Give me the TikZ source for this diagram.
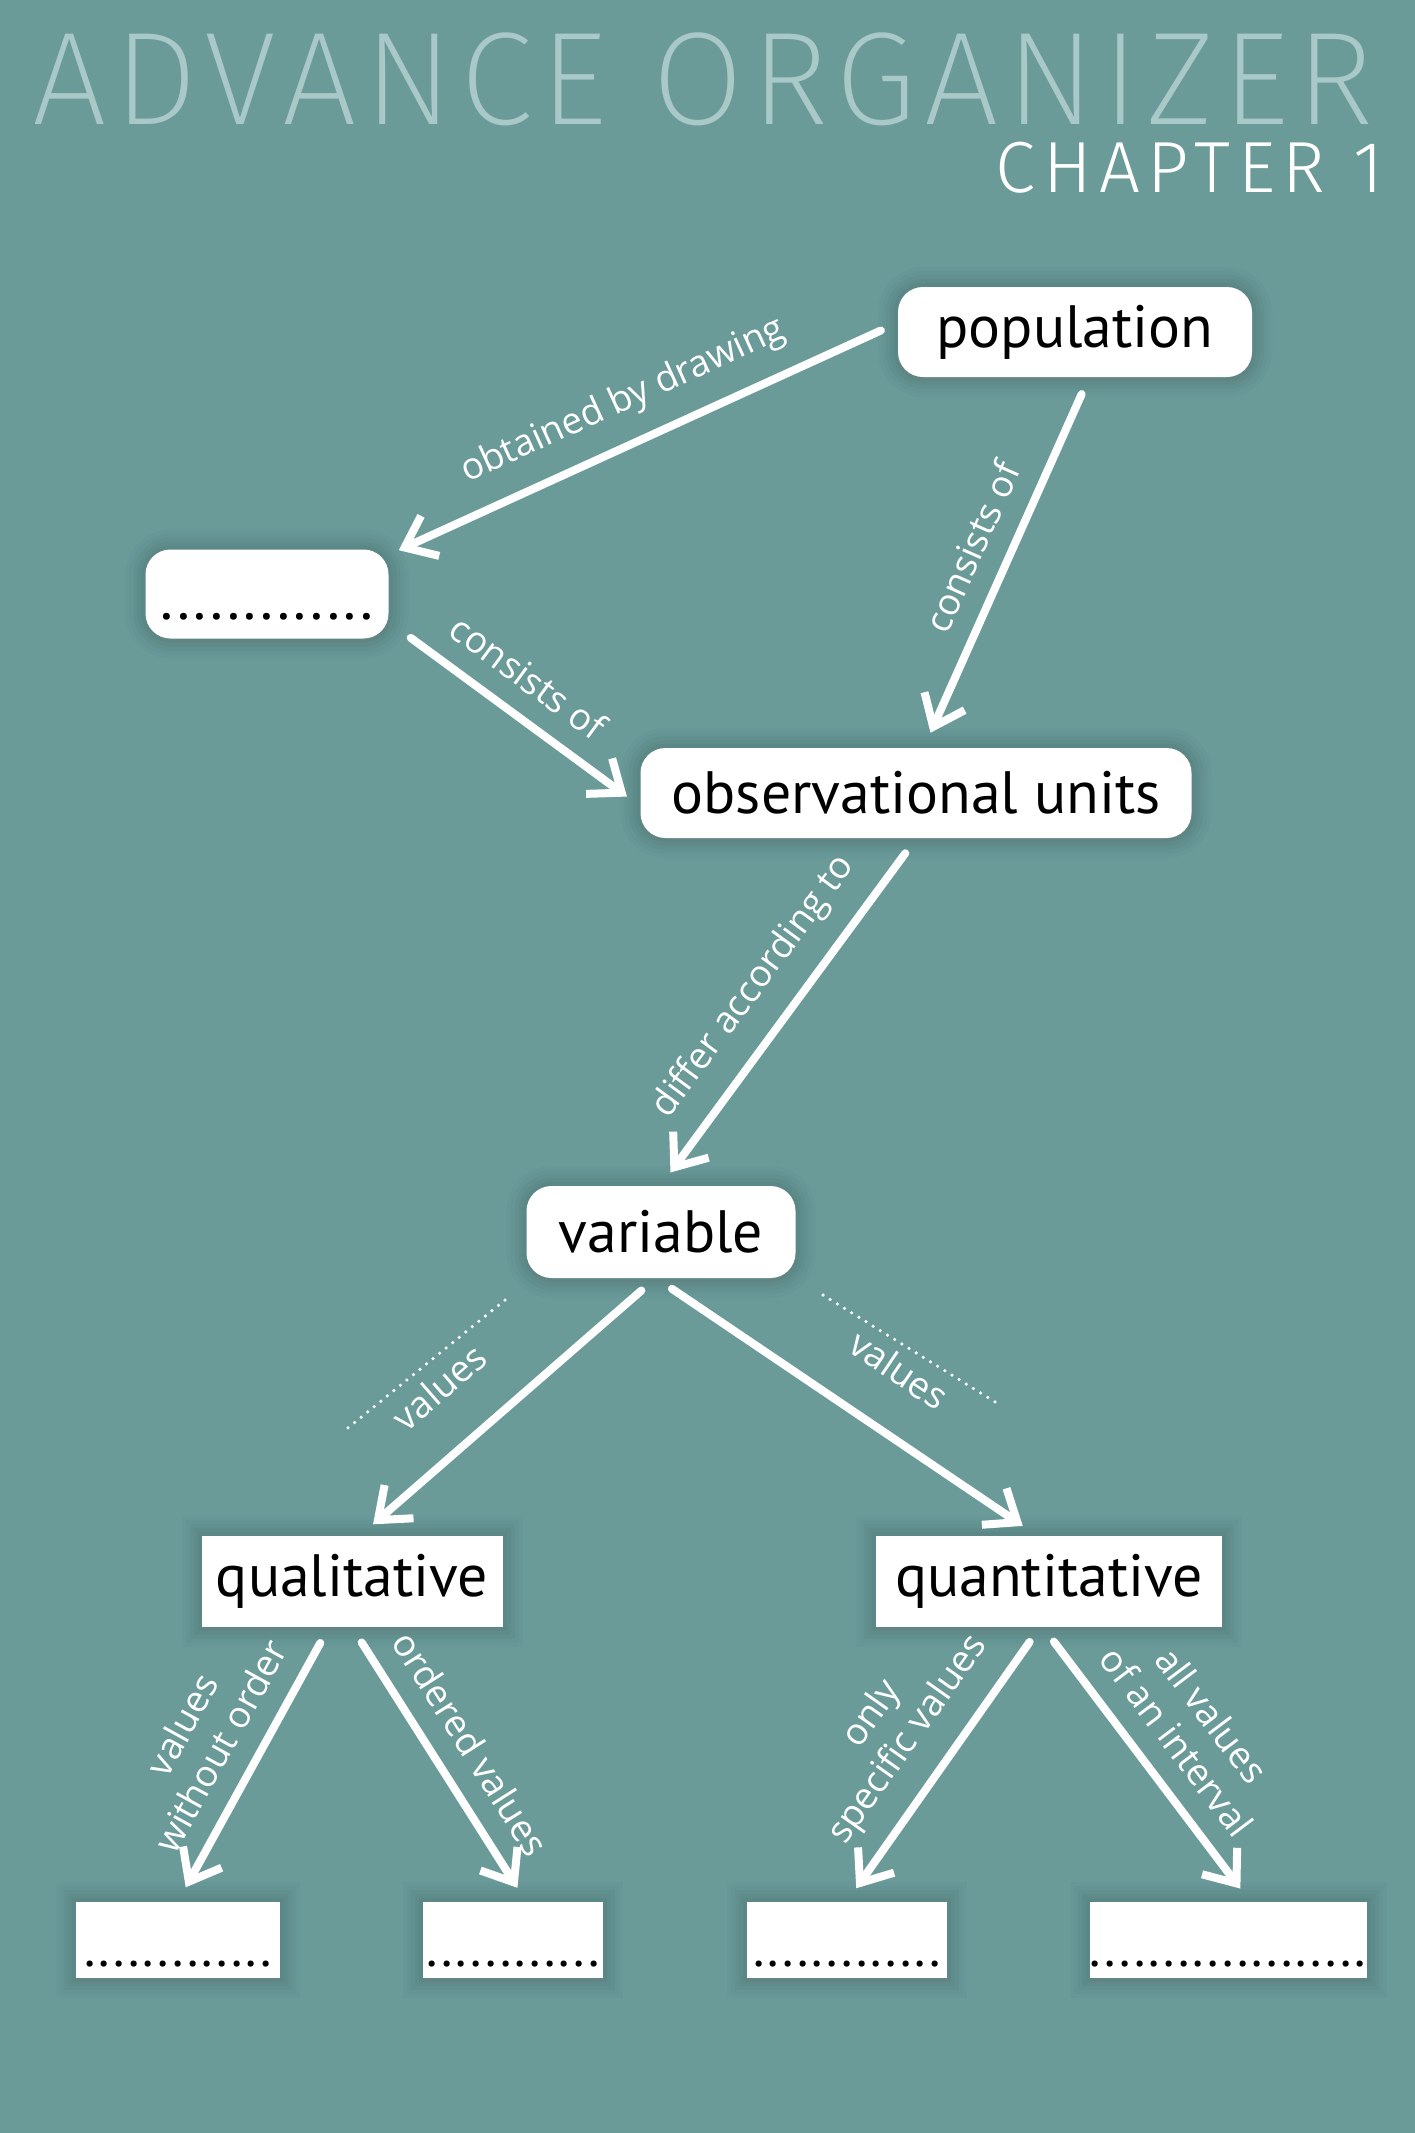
\documentclass[tikz,border=0pt]{standalone}
\usepackage{fontspec}
\setmainfont{Open Sans}
\newfontfamily\boxfont{PT Sans}
\newfontfamily\titlefont[LetterSpace=5.8]{Fira Sans ExtraLight}
\newfontfamily\chapterfont[LetterSpace=10.5]{Fira Sans Light}
\usetikzlibrary{arrows.meta,shadows}
\definecolor{tealbg}{HTML}{6A9B99}
\definecolor{titlegrey}{HTML}{A9C8C8}
\tikzset{
  halo/.style={preaction={draw=black, draw opacity=0.02, line width=0.40cm},
    preaction={draw=black, draw opacity=0.02, line width=0.32cm},
    preaction={draw=black, draw opacity=0.025, line width=0.24cm},
    preaction={draw=black, draw opacity=0.025, line width=0.16cm},
    preaction={draw=black, draw opacity=0.03, line width=0.08cm}},
  concept/.style={fill=white, rounded corners=0.25cm, inner sep=0pt, text=black,
    font=\boxfont\fontsize{17}{20}\selectfont, halo,
    drop shadow={shadow xshift=0cm, shadow yshift=-0.06cm, opacity=0.15}},
  category/.style={concept, sharp corners},
  blank/.style={category, text height=0.64cm, text depth=0.12cm, minimum height=0cm,
    font=\boxfont\fontsize{15}{18}\selectfont},
  link/.style={white, line width=0.08cm, line cap=round,
    -{Straight Barb[length=0.28cm,width=0.44cm,line cap=butt,line join=miter]},
    shorten <=0.18cm, shorten >=0.16cm},
  linklabel/.style={midway, sloped, above=0.2cm, inner sep=0pt, align=center, text=white,
    font=\fontsize{10.5}{12.5}\selectfont},
  blankline/.style={white, line width=1pt, line cap=round, dash pattern=on 0pt off 2.4pt}
}
\begin{document}
\begin{tikzpicture}
  \useasboundingbox[fill=tealbg] (0,0) rectangle (14.15,-21.33);
  % title
  \node[anchor=base west, inner sep=0pt, text=titlegrey, font=\titlefont\fontsize{37.6}{40}\selectfont] (title) at (0.32,-1.24) {ADVANCE ORGANIZER};
  \node[anchor=base east, inner sep=0pt, text=white, font=\chapterfont\fontsize{20.6}{24}\selectfont] (chapter) at (13.84,-1.92) {CHAPTER 1};
  % concepts
  \node[concept, minimum width=3.54cm, minimum height=0.90cm] (pop) at (10.75,-3.32) {population};
  \node[concept, minimum width=2.43cm, text height=0.70cm, text depth=0.19cm] (sample) at (2.67,-5.94) {.............};
  \node[concept, minimum width=5.51cm, minimum height=0.90cm] (units) at (9.16,-7.93) {observational units};
  \node[concept, minimum width=2.69cm, minimum height=0.92cm] (var) at (6.61,-12.32) {variable};
  \node[category, minimum width=3.01cm, minimum height=0.91cm] (qual) at (3.52,-15.81) {qualitative};
  \node[category, minimum width=3.46cm, minimum height=0.91cm] (quant) at (10.49,-15.81) {quantitative};
  \node[blank, minimum width=2.04cm] (nominal) at (1.78,-19.40) {.............};
  \node[blank, minimum width=1.80cm] (ordinal) at (5.13,-19.40) {............};
  \node[blank, minimum width=2.00cm] (discrete) at (8.47,-19.40) {.............};
  \node[blank, minimum width=2.77cm] (continuous) at (12.28,-19.40) {...................};
  % links
  \draw[link] ([yshift=0.09cm]pop.west) -- ([shift={(-0.05,-0.08)}]sample.north east) node[linklabel] {obtained by drawing};
  \draw[link] ([xshift=0.14cm]pop.south) -- ([xshift=0.08cm]units.north) node[linklabel] {consists of};
  \draw[link] ([shift={(0.07,0.12)}]sample.south east) -- ([yshift=-0.13cm]units.west) node[linklabel, pos=0.45] {consists of};
  \draw[link] (units.south) -- (var.north) node[linklabel] {differ according to};
  \draw[link] ([xshift=-0.06cm]var.south) -- ([xshift=0.09cm]qual.north) node[linklabel, pos=0.6, above=0.22cm] {values};
  \draw[link] ([xshift=-0.04cm]var.south) -- ([xshift=-0.13cm]quant.north) node[linklabel, pos=0.55, above=0.22cm] {values};
  \draw[link] ([xshift=-0.23cm]qual.south) -- (nominal.north) node[linklabel] {values\\without order};
  \draw[link] (qual.south) -- ([xshift=0.13cm]ordinal.north) node[linklabel] {ordered values};
  \draw[link] ([xshift=-0.09cm]quant.south) -- (discrete.north) node[linklabel] {only\\specific values};
  \draw[link] ([xshift=-0.06cm]quant.south) -- ([xshift=0.22cm]continuous.north) node[linklabel] {all values\\of an interval};
  % blanks after "values"
  \coordinate (qualA) at (5.05,-13.00);
  \coordinate (qualB) at (3.43,-14.32);
  \coordinate (quantA) at (8.23,-12.95);
  \coordinate (quantB) at (10.00,-14.05);
  \draw[blankline] (qualA) -- (qualB);
  \draw[blankline] (quantA) -- (quantB);
\end{tikzpicture}
\end{document}
